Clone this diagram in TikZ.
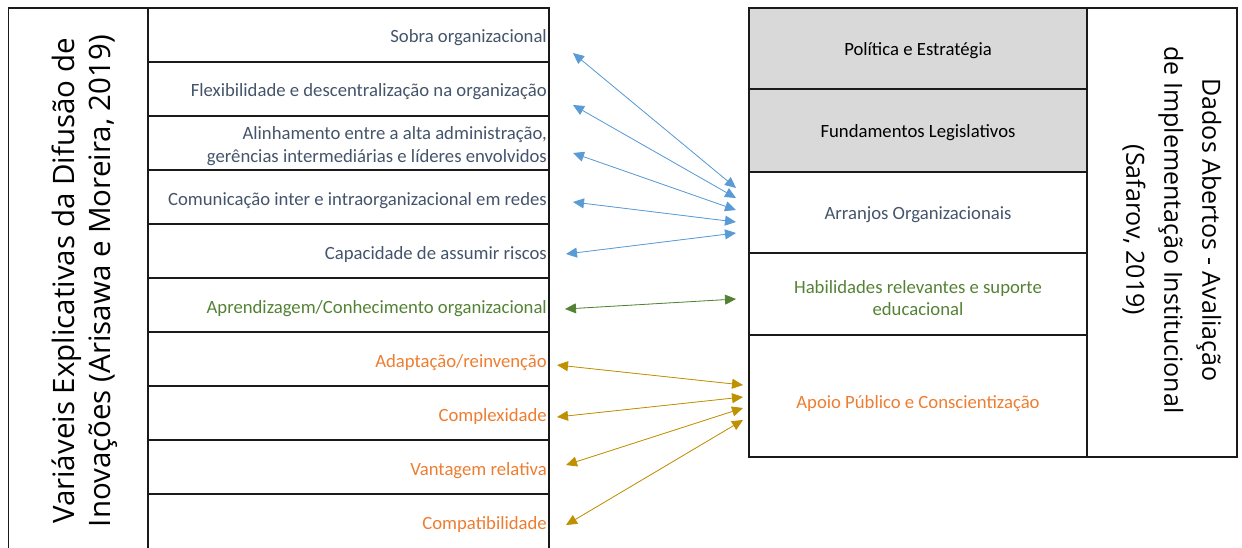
\documentclass[tikz,border=0pt]{standalone}
\usepackage{fontspec}
\setmainfont{Carlito}
\newfontfamily\titlefont{Open Sans}
\usetikzlibrary{arrows.meta}
\definecolor{navy}{HTML}{44546A}
\definecolor{leafgreen}{HTML}{548235}
\definecolor{tangerine}{HTML}{ED7D31}
\definecolor{skyblue}{HTML}{5B9BD5}
\definecolor{ochre}{HTML}{BF9000}
\definecolor{panelgray}{HTML}{D9D9D9}
\definecolor{rule}{HTML}{1A1A1A}

\begin{document}
\begin{tikzpicture}[x=1pt,y=-1pt,
  grid/.style={draw=rule,line width=1.3pt},
  lefttxt/.style={anchor=east,font=\fontsize{18.7}{23}\selectfont,align=right,inner sep=1pt},
  righttxt/.style={anchor=center,font=\fontsize{18.7}{22}\selectfont,align=center,inner sep=1pt},
  ltitletxt/.style={font=\titlefont\fontsize{29.5}{36}\selectfont,align=center,inner sep=0pt},
  rtitletxt/.style={font=\titlefont\fontsize{25}{38}\selectfont,align=center,inner sep=0pt},
  link/.style={line width=0.8pt,{Triangle[length=11pt,width=10pt]}-{Triangle[length=11pt,width=10pt]}}
]
\useasboundingbox (0,0) rectangle (1242,547);
\begin{scope}
\clip (0,0) rectangle (1242,547);

% ---- left panel: innovation diffusion variables
\draw[grid] (8.5,560) -- (8.5,8) -- (549,8) -- (549,560);
\draw[grid] (148,8) -- (148,560);
\foreach \yy in {62,116,170,224,278,332,386,440,494}
  \draw[grid] (148,\yy) -- (549,\yy);

% ---- right panel: open data institutional implementation
\fill[panelgray] (749,8) rectangle (1087,172);
\draw[grid] (749,8) rectangle (1237,457);
\draw[grid] (1087,8) -- (1087,457);
\foreach \yy in {89,172,253,335}
  \draw[grid] (749,\yy) -- (1087,\yy);
\end{scope}

% ---- titles
\node[ltitletxt,rotate=90] (ltitle) at (85,281)
  {Variáveis Explicativas da Difusão de\\Inovações (Arisawa e Moreira, 2019)};
\node[rtitletxt,rotate=-90] (rtitle) at (1172,230)
  {Dados Abertos - Avaliação\\de Implementação Institucional\\(Safarov, 2019)};

% ---- left labels
\node[lefttxt,text=navy] (sobra) at (548,38) {Sobra organizacional};
\node[lefttxt,text=navy] (flex) at (548,92) {Flexibilidade e descentralização na organização};
\node[lefttxt,text=navy] (alin) at (548,146) {Alinhamento entre a alta administração,\\gerências intermediárias e líderes envolvidos};
\node[lefttxt,text=navy] (comu) at (548,201) {Comunicação inter e intraorganizacional em redes};
\node[lefttxt,text=navy] (risco) at (548,255) {Capacidade de assumir riscos};
\node[lefttxt,text=leafgreen] (aprend) at (548,309) {Aprendizagem/Conhecimento organizacional};
\node[lefttxt,text=tangerine] (adapt) at (548,363) {Adaptação/reinvenção};
\node[lefttxt,text=tangerine] (compl) at (548,417) {Complexidade};
\node[lefttxt,text=tangerine] (vant) at (548,471) {Vantagem relativa};
\node[lefttxt,text=tangerine] (compat) at (548,525) {Compatibilidade};

% ---- right labels
\node[righttxt] (polit) at (918,51) {Política e Estratégia};
\node[righttxt] (fund) at (918,133) {Fundamentos Legislativos};
\node[righttxt,text=navy] (arranj) at (918,215) {Arranjos Organizacionais};
\node[righttxt,text=leafgreen] (habil) at (918,298) {Habilidades relevantes e suporte\\educacional};
\node[righttxt,text=tangerine] (apoio) at (918,404) {Apoio Público e Conscientização};

% ---- connector end points
\coordinate (b1l) at (573,53);  \coordinate (b1r) at (736,188);
\coordinate (b2l) at (573,105); \coordinate (b2r) at (736,198);
\coordinate (b3l) at (573,153); \coordinate (b3r) at (736,210);
\coordinate (b4l) at (573,202); \coordinate (b4r) at (736,222);
\coordinate (b5l) at (566,254); \coordinate (b5r) at (736,233);
\coordinate (g1l) at (565,309); \coordinate (g1r) at (736,299);
\coordinate (o1l) at (557,365); \coordinate (o1r) at (743,385);
\coordinate (o2l) at (557,417); \coordinate (o2r) at (743,397);
\coordinate (o3l) at (566,465); \coordinate (o3r) at (743,408);
\coordinate (o4l) at (566,525); \coordinate (o4r) at (743,420);

% ---- connectors
\foreach \k in {1,...,5}
  \draw[link,draw=skyblue,fill=skyblue] (b\k l) -- (b\k r);
\draw[link,draw=leafgreen,fill=leafgreen] (g1l) -- (g1r);
\foreach \k in {1,...,4}
  \draw[link,draw=ochre,fill=ochre] (o\k l) -- (o\k r);
\end{tikzpicture}
\end{document}
